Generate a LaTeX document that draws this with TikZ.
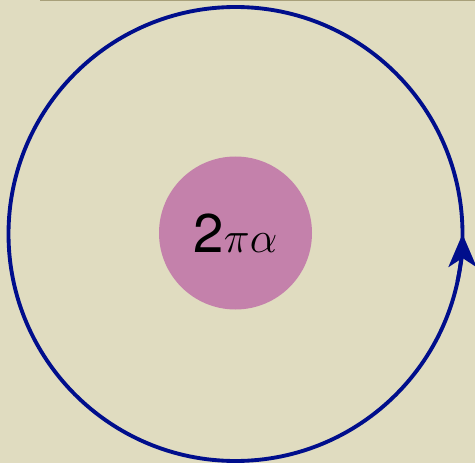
\documentclass[tikz,border=0pt]{standalone}
\usepackage{fontspec}
\newfontfamily\heros{TeX Gyre Heros}
\usetikzlibrary{arrows.meta}
\definecolor{paper}{HTML}{E0DCC0}
\definecolor{rim}{HTML}{A8A07A}
\definecolor{navy}{HTML}{000E8C}
\definecolor{mauve}{HTML}{C481AB}

\begin{document}
\begin{tikzpicture}[
  >={Stealth[length=6.6mm, width=5.6mm, inset=1.8mm]},
  loop/.style={navy, line width=2.2pt},
  core/.style={circle, fill=mauve, minimum size=3.06cm, inner sep=0pt, font=\fontsize{31}{36}\selectfont},
]

% Background
\fill[paper] (0,0) rectangle (9.5,9.26);
\useasboundingbox (0,0) rectangle (9.5,9.26);
\draw[rim, line width=1.2pt] (0.8,9.26) -- (9.5,9.26);

% Winding loop
\draw[loop] (4.71,4.58) circle (4.54);
\draw[loop, ->] (4.71,4.58) ++(-12:4.54) arc (-12:0:4.54);

% Charge in the middle
\node[core] (charge) at (4.71,4.6) {{\heros 2}$\pi\alpha$};

\end{tikzpicture}
\end{document}
